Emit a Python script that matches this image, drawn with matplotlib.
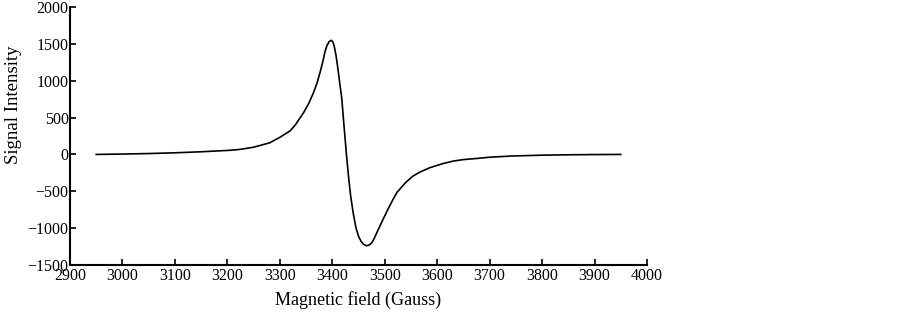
import matplotlib
matplotlib.use("Agg")
import matplotlib.pyplot as plt

field = [2950, 3000, 3050, 3100, 3150, 3205, 3224, 3250, 3281, 3300, 3313, 3320,
         3330, 3345, 3355, 3364, 3371, 3377, 3382, 3386, 3390, 3394, 3398, 3401,
         3404, 3407, 3411, 3414, 3418, 3422, 3427, 3431, 3435, 3440, 3445, 3450,
         3455, 3460, 3465, 3470, 3475, 3480, 3485, 3491, 3497, 3505, 3516, 3523,
         3540, 3554, 3567, 3586, 3612, 3631, 3650, 3675, 3700, 3740, 3800, 3850,
         3900, 3950]
intensity = [0, 5, 12, 22, 36, 56, 68, 98, 158, 232, 290, 322,
             405, 563, 690, 834, 970, 1120, 1260, 1390, 1480, 1530, 1548, 1530,
             1460, 1350, 1150, 980, 770, 420, 0, -300, -560, -800, -990, -1110,
             -1180, -1222, -1238, -1230, -1200, -1140, -1060, -969, -878, -760, -608, -518,
             -380, -293, -240, -180, -122, -90, -70, -55, -38, -22, -10, -5,
             -2, 0]

xticks = [2900, 3000, 3100, 3200, 3300, 3400, 3500, 3600, 3700, 3800, 3900, 4000]
yticks = [-1500, -1000, -500, 0, 500, 1000, 1500, 2000]

plt.rcParams['font.family'] = ['Liberation Serif', 'DejaVu Serif']

fig = plt.figure(figsize=(9.03, 3.15), dpi=100)
ax = fig.add_axes([70/903, 1-265/315, 577/903, 258/315])
ax.plot(field, intensity, color='black', lw=1.2)
ax.set_xlim(2900, 4000)
ax.set_ylim(-1500, 2000)
ax.set_xticks(xticks)
ax.set_yticks(yticks)
ax.tick_params(direction='in', length=4, width=1.2, labelsize=11.5)
ax.tick_params(axis='x', pad=2)
ax.tick_params(axis='y', pad=1)
for s in ['top', 'right']:
    ax.spines[s].set_visible(False)
for s in ['left', 'bottom']:
    ax.spines[s].set_linewidth(1.5)
ax.set_xlabel('Magnetic field (Gauss)', fontsize=13)
ax.set_ylabel('Signal Intensity', fontsize=13.5)
ax.xaxis.set_label_coords(0.5, -0.10)
ax.yaxis.set_label_coords(-0.083, 0.62)
fig.savefig('out.png', dpi=100)
